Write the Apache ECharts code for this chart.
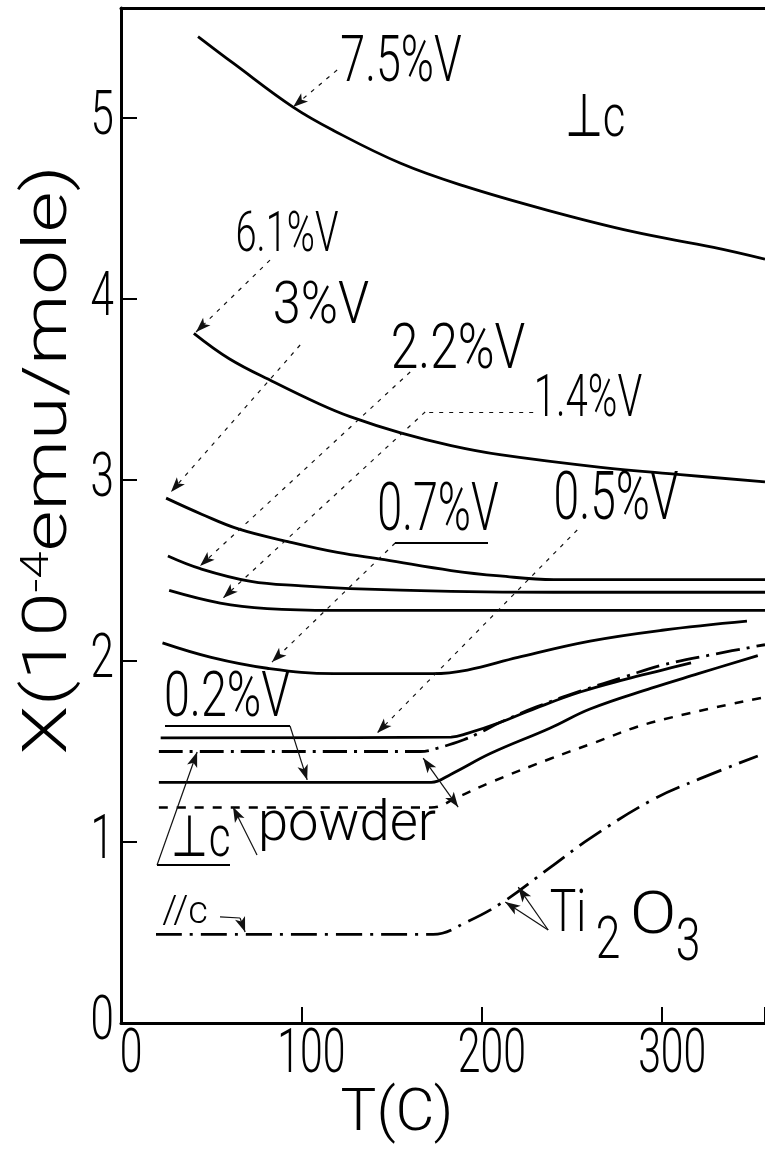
<!DOCTYPE html>
<html>
<head>
    <meta charset="utf-8">
    <title>Susceptibility of V-doped Ti2O3 vs T</title>
    <script src="https://cdn.jsdelivr.net/npm/echarts/dist/echarts.min.js"></script>
    <style type="text/css">
        *{margin: 0;padding: 0;}
        body{background: #fff;overflow: hidden;}
        #main{width: 765px;height: 1153px;}
    </style>
</head>
<body>
<div id="main"></div>
<script type="text/javascript">
    // tick labels
    var xTicks = [0, 100, 200, 300];
    var yTicks = [0, 1, 2, 3, 4, 5];

    // [T (C), chi (1e-4 emu/mole)], perpendicular to c
    var v75 = [[42.7,5.45],[62.6,5.30],[95.4,5.06],[118,4.93],[155,4.75],[190,4.625],[236.6,4.49],[282.5,4.375],[328.5,4.285],[357,4.22]];
    var v61 = [[40.4,3.81],[60,3.67],[85,3.54],[110,3.42],[127,3.35],[155,3.26],[183,3.19],[210,3.14],[266,3.07],[310,3.03],[357,2.99]];
    var v3  = [[25,2.90],[45,2.81],[65,2.73],[92.5,2.66],[120,2.60],[146,2.56],[183,2.50],[210,2.47],[240,2.45],[357,2.45]];
    var v22 = [[26,2.58],[44,2.51],[72,2.44],[100,2.415],[127,2.40],[183,2.385],[240,2.38],[357,2.38]];
    var v14 = [[26.7,2.39],[55,2.32],[81,2.29],[118,2.28],[357,2.28]];
    var v07 = [[23,2.10],[50,2.02],[81,1.96],[118,1.93],[173,1.93],[192,1.95],[220,2.02],[260,2.11],[300,2.17],[347,2.22]];
    var v05 = [[22,1.575],[183,1.58],[192,1.60],[210,1.66],[230,1.74],[255,1.83],[280,1.90],[300,1.95],[316,1.99]];
    var v02 = [[21,1.33],[172,1.33],[183,1.375],[205,1.49],[238,1.63],[260,1.735],[294,1.85],[320,1.93],[353,2.03]];
    // pure Ti2O3
    var tiPerp   = [[21,1.50],[166,1.50],[176,1.52],[190,1.565],[198,1.60],[210,1.66],[230,1.745],[255,1.835],[280,1.915],[299,1.975],[330,2.04],[357,2.09]];
    var tiPowder = [[21,1.19],[172,1.19],[187,1.25],[205,1.33],[238,1.46],[260,1.54],[294,1.66],[357,1.80]];
    var tiPar    = [[19.4,0.49],[173,0.49],[192,0.56],[212,0.67],[238,0.86],[260,1.02],[294,1.23],[321,1.35],[353,1.475]];

    // pointer lines [T1, chi1, T2, chi2], arrow at the second end
    var dashPointers = [[119.8,5.265,95.4,5.061],[82.6,4.215,41.6,3.818],[99.3,3.746,27.7,2.934],[160.3,3.597,43.8,2.525],
        [168.6,3.376,56.6,2.348],[152,2.652,83.7,1.994],[252.9,2.724,142,1.602]];
    var dashPlain = [[228.5,3.376,168.6,3.376]];
    var solidPointers = [[93.7,1.641,103.2,1.343],[20,0.873,42.2,1.497],[75.4,0.928,62.1,1.193],[66,0.580,68.8,0.503],
        [236.8,0.514,213,0.669],[236.8,0.514,220.2,0.751]];
    var solidPlain = [[54.9,0.586,66,0.580]];
    var doublePointers = [[167.5,1.464,186.9,1.193]];

    var FONT = 'Roboto, "DejaVu Sans", sans-serif';
    var myChart = echarts.init(document.getElementById('main'));

    function curve(name, data, type, width) {
        return {
            name: name, type: 'line', data: data, symbol: 'none', silent: true,
            smooth: 0.4,
            lineStyle: {color: '#000', width: width, type: type}
        };
    }
    function pointers(list, s1, s2) {
        return list.map(function (a) {
            return [{coord: [a[0], a[1]], symbol: s1}, {coord: [a[2], a[3]], symbol: s2}];
        });
    }
    function markSeries(data, lineType, width) {
        return {
            type: 'line', data: [], silent: true,
            markLine: {
                silent: true, animation: false, symbolSize: [8, 15],
                label: {show: false},
                lineStyle: {color: '#111', width: width, type: lineType},
                data: data
            }
        };
    }

    var option = {
        animation: false,
        backgroundColor: '#fff',
        grid: {left: 121, right: 0, top: 8, bottom: 130},
        xAxis: [{
            type: 'value', min: 0, max: 357, interval: 100, position: 'bottom',
            axisLine: {onZero: false, lineStyle: {color: '#000', width: 3}},
            axisTick: {inside: true, length: 16, lineStyle: {color: '#000', width: 2}},
            axisLabel: {show: false},
            splitLine: {show: false},
            name: 'T(C)', nameLocation: 'middle', nameGap: 62,
            nameTextStyle: {color: '#000', fontSize: 60, fontWeight: 300, fontFamily: FONT, padding: [0, 92, 0, 0]}
        }, {
            type: 'value', min: 0, max: 357, position: 'top',
            axisLine: {onZero: false, lineStyle: {color: '#000', width: 3}},
            axisTick: {show: false}, axisLabel: {show: false}, splitLine: {show: false}
        }],
        yAxis: {
            type: 'value', min: 0, max: 5.608, interval: 1,
            axisLine: {onZero: false, lineStyle: {color: '#000', width: 3}},
            axisTick: {inside: true, length: 16, lineStyle: {color: '#000', width: 2}},
            axisLabel: {show: false},
            splitLine: {show: false}
        },
        series: [
            curve('7.5%V', v75, 'solid', 2.8),
            curve('6.1%V', v61, 'solid', 2.8),
            curve('3%V', v3, 'solid', 2.8),
            curve('2.2%V', v22, 'solid', 2.8),
            curve('1.4%V', v14, 'solid', 2.8),
            curve('0.7%V', v07, 'solid', 2.8),
            curve('0.5%V', v05, 'solid', 2.8),
            curve('0.2%V', v02, 'solid', 2.8),
            curve('Ti2O3 ⊥c', tiPerp, [24, 7, 3, 7], 2.8),
            curve('Ti2O3 powder', tiPowder, [9, 9], 2.5),
            curve('Ti2O3 //c', tiPar, [26, 8, 3, 8], 2.8),
            markSeries(pointers(dashPointers, 'none', 'arrow').concat(pointers(dashPlain, 'none', 'none')), [4, 6], 1.2),
            markSeries(pointers(solidPointers, 'none', 'arrow').concat(pointers(solidPlain, 'none', 'none'))
                .concat(pointers(doublePointers, 'arrow', 'arrow')), 'solid', 1.2)
        ]
    };
    myChart.setOption(option);

    /*------------------------------ texts ------------------------------*/
    // x, y = centre of the capitals in pixels, s = font size, k = horizontal squeeze
    var notes = [
        {t: '7.5%V', x: 401, y: 65, s: 65, k: 0.69},
        {t: '⊥c', x: 595, y: 121, s: 60, k: 0.73},
        {t: '6.1%V', x: 287, y: 237, s: 56, k: 0.68},
        {t: '3%V', x: 321, y: 308, s: 60, k: 0.84},
        {t: '2.2%V', x: 458, y: 352, s: 63, k: 0.79},
        {t: '1.4%V', x: 588, y: 401, s: 59, k: 0.68},
        {t: '0.7%V', x: 438, y: 513, s: 66, k: 0.68},
        {t: '0.5%V', x: 616, y: 502, s: 66, k: 0.70},
        {t: '0.2%V', x: 227, y: 700, s: 63, k: 0.74},
        {t: '⊥c', x: 201, y: 841, s: 58, k: 0.73},
        {t: 'powder', x: 347, y: 826, s: 56, k: 0.97},
        {t: '//c', x: 185, y: 913, s: 38, k: 1},
        {t: 'Ti', x: 568, y: 916, s: 60, k: 0.74},
        {t: '2', x: 608, y: 943, s: 60, k: 0.74},
        {t: 'O', x: 653, y: 918, s: 60, k: 1.15},
        {t: '3', x: 688, y: 945, s: 60, k: 0.74}
    ];
    var rules = [[395, 543, 488, 543], [165, 726, 290, 726], [157, 865, 230, 865]];

    function textEl(t, x, y, size, k, align) {
        return {
            type: 'text', x: x, y: y, scaleX: k, silent: true, z: 10,
            style: {
                text: t, fill: '#000', fontSize: size, fontWeight: 300, fontFamily: FONT,
                align: align, textAlign: align, verticalAlign: 'middle', textVerticalAlign: 'middle'
            }
        };
    }
    var els = [];
    notes.forEach(function (n) {
        els.push(textEl(n.t, n.x, n.y, n.s, n.k, 'center'));
    });
    rules.forEach(function (r) {
        els.push({type: 'line', silent: true, z: 10, shape: {x1: r[0], y1: r[1], x2: r[2], y2: r[3]},
            style: {stroke: '#000', lineWidth: 2}});
    });
    xTicks.forEach(function (t) {
        var p = myChart.convertToPixel({gridIndex: 0}, [t, 0]);
        els.push(textEl(String(t), p[0] + 10, p[1] + 33, 62, 0.66, 'center'));
    });
    yTicks.forEach(function (v) {
        var p = myChart.convertToPixel({gridIndex: 0}, [0, v]);
        els.push(textEl(String(v), p[0] - 7, p[1], 62, 0.68, 'right'));
    });
    // y axis title, read bottom to top, stretched along the text
    els.push({
        type: 'text', x: 50, y: 460, rotation: Math.PI / 2, scaleX: 1.28, silent: true, z: 10,
        style: {
            text: '{a|X(10}{s|-4}{a|emu/mole)}', fill: '#000', fontSize: 62, fontWeight: 300, fontFamily: FONT,
            align: 'center', textAlign: 'center', verticalAlign: 'middle', textVerticalAlign: 'middle',
            rich: {
                a: {fill: '#000', color: '#000', fontSize: 62, fontWeight: 300, fontFamily: FONT},
                s: {fill: '#000', color: '#000', fontSize: 38, fontWeight: 300, fontFamily: FONT, verticalAlign: 'top'}
            }
        }
    });
    myChart.setOption({graphic: {elements: els}});
</script>
</body>
</html>
